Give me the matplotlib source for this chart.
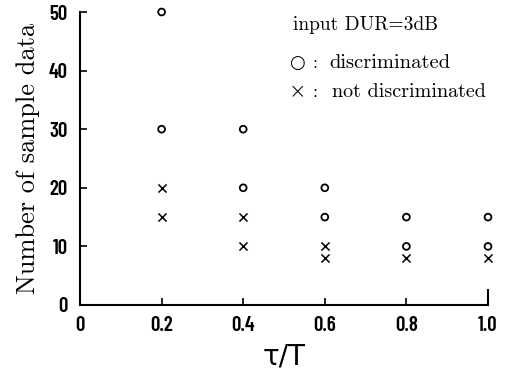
import matplotlib
matplotlib.use("Agg")
import matplotlib.pyplot as plt

# data
disc_x = [0.2, 0.2, 0.4, 0.4, 0.6, 0.6, 0.8, 0.8, 1.0, 1.0]
disc_y = [50, 30, 30, 20, 20, 15, 15, 10, 15, 10]
notd_x = [0.2, 0.2, 0.4, 0.4, 0.6, 0.6, 0.8, 1.0]
notd_y = [20, 15, 15, 10, 10, 8, 8, 8]
xticks = [0, 0.2, 0.4, 0.6, 0.8, 1.0]
xticklabels = ["0", "0.2", "0.4", "0.6", "0.8", "1.0"]
yticks = [0, 10, 20, 30, 40, 50]
yticklabels = ["0", "10", "20", "30", "40", "50"]

fig = plt.figure(figsize=(5.07, 3.74), dpi=100)
ax = fig.add_axes([80/507, 1-305/374, (488-80)/507, (305-12)/374])

ax.scatter(disc_x, disc_y, marker='o', s=24, facecolors='none', edgecolors='black', linewidths=1.3, clip_on=False, zorder=3)
ax.scatter(notd_x, notd_y, marker='x', s=34, color='black', linewidths=1.1, clip_on=False, zorder=3)

ax.set_xlim(0, 1.0)
ax.set_ylim(0, 50)
ax.spines['top'].set_visible(False)
ax.spines['right'].set_visible(False)
for s in ['left', 'bottom']:
    ax.spines[s].set_linewidth(1.5)
ax.plot([1.0, 1.0], [0, 2.5], color='black', lw=1.5, clip_on=False)

tickfont = dict(family=['Barlow Condensed', 'DejaVu Sans'], weight='semibold', stretch='condensed', size=15)
ax.set_xticks(xticks)
ax.set_xticklabels(xticklabels, fontdict=tickfont)
ax.set_yticks(yticks)
ax.set_yticklabels(yticklabels, fontdict=tickfont)
ax.tick_params(axis='both', direction='in', length=5, width=1.2)
ax.tick_params(axis='x', pad=8)
ax.tick_params(axis='y', pad=9)

serif = ['cmr10', 'DejaVu Serif']
ax.set_ylabel("Number of sample data", family=serif, fontsize=19, labelpad=6)
ax.set_xlabel("\u03c4/T", family=['DejaVu Sans'], fontsize=20, labelpad=5)

fig.text(293/507, 1-25/374, "input DUR=3dB", family=serif, fontsize=14, va='center', ha='left')
fig.text(289/507, 1-63/374, "\u25cb", family=['DejaVu Sans'], fontsize=13, va='center', ha='left')
fig.text(289/507, 1-92/374, "\u00d7", family=['DejaVu Sans'], fontsize=15, weight='light', va='center', ha='left')
fig.text(313/507, 1-63/374, ":", family=serif, fontsize=13, va='center', ha='left')
fig.text(313/507, 1-92/374, ":", family=serif, fontsize=13, va='center', ha='left')
fig.text(329/507, 1-63/374, "discriminated", family=serif, fontsize=14.8, va='center', ha='left')
fig.text(332/507, 1-92/374, "not discriminated", family=serif, fontsize=14.5, va='center', ha='left')

fig.savefig("out.png", dpi=100)
